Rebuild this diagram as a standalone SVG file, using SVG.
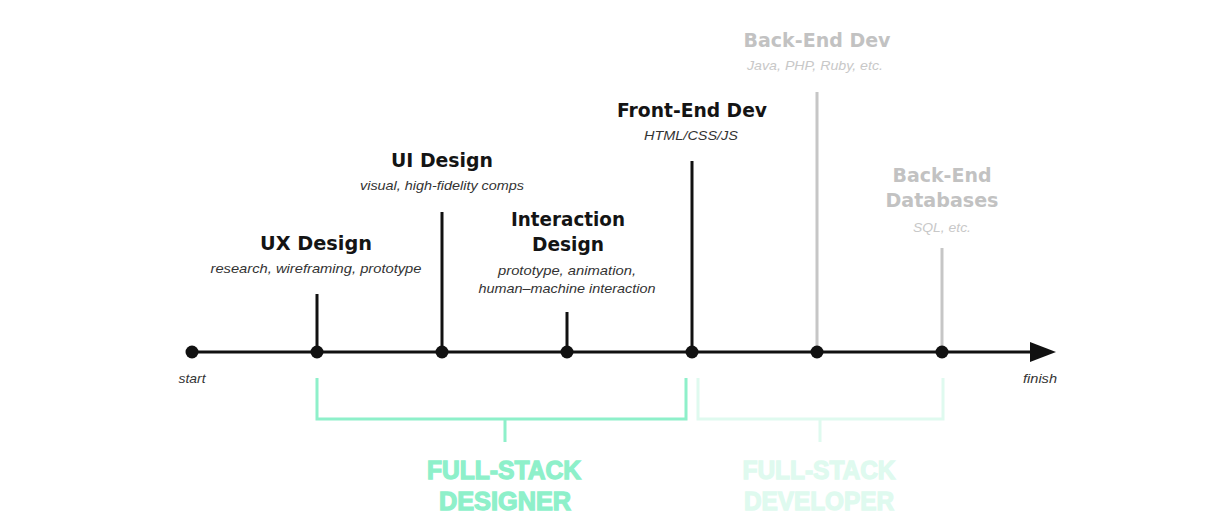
<svg xmlns="http://www.w3.org/2000/svg" width="1210" height="522" viewBox="0 0 1210 522">
<style>
.h{font-family:"DejaVu Sans","Liberation Sans",sans-serif;font-weight:bold;font-size:19px;text-anchor:middle;fill:#141414}
.s{font-family:"Liberation Sans",Arial,sans-serif;font-style:italic;font-size:13px;text-anchor:middle;fill:#333}
.g{fill:#c2c2c2}
.gs{fill:#c8c8c8}
.f{font-family:"Liberation Sans",Arial,sans-serif;font-weight:bold;font-size:25px;text-anchor:middle;stroke-width:1.3}
.blk{stroke:#111;stroke-width:3;fill:none}
.gry{stroke:#c6c6c6;stroke-width:3;fill:none}
.dot{fill:#111}
</style>
<rect width="1210" height="522" fill="#fff"/>
<g id="connectors">
<line class="blk" x1="192" y1="352" x2="1034" y2="352"/>
<polygon points="1030,342 1056,352 1030,362" fill="#111"/>
<line class="blk" x1="317" y1="294" x2="317" y2="352"/>
<line class="blk" x1="442" y1="212" x2="442" y2="352"/>
<line class="blk" x1="567" y1="312" x2="567" y2="352"/>
<line class="blk" x1="692" y1="161" x2="692" y2="352"/>
<line class="gry" x1="817" y1="92" x2="817" y2="352"/>
<line class="gry" x1="942" y1="248" x2="942" y2="352"/>
</g>
<g id="start">
<circle class="dot" cx="192" cy="352" r="6.5"/>
<text class="s" x="192" y="383" textLength="27" lengthAdjust="spacingAndGlyphs">start</text>
</g>
<g id="finish">
<text class="s" x="1040" y="383" textLength="34" lengthAdjust="spacingAndGlyphs">finish</text>
</g>
<g id="ux">
<circle class="dot" cx="317" cy="352" r="6.5"/>
<text class="h" x="316" y="250" textLength="112" lengthAdjust="spacingAndGlyphs">UX Design</text>
<text class="s" x="316" y="273" textLength="211" lengthAdjust="spacingAndGlyphs">research, wireframing, prototype</text>
</g>
<g id="ui">
<circle class="dot" cx="442" cy="352" r="6.5"/>
<text class="h" x="442" y="167" textLength="102" lengthAdjust="spacingAndGlyphs">UI Design</text>
<text class="s" x="442" y="190" textLength="164" lengthAdjust="spacingAndGlyphs">visual, high-fidelity comps</text>
</g>
<g id="interaction">
<circle class="dot" cx="567" cy="352" r="6.5"/>
<text class="h" x="568" y="226" textLength="114" lengthAdjust="spacingAndGlyphs">Interaction</text>
<text class="h" x="568" y="251" textLength="72" lengthAdjust="spacingAndGlyphs">Design</text>
<text class="s" x="567" y="275" textLength="138" lengthAdjust="spacingAndGlyphs">prototype, animation,</text>
<text class="s" x="567" y="293" textLength="177" lengthAdjust="spacingAndGlyphs">human–machine interaction</text>
</g>
<g id="frontend">
<circle class="dot" cx="692" cy="352" r="6.5"/>
<text class="h" x="692" y="117" textLength="150" lengthAdjust="spacingAndGlyphs">Front-End Dev</text>
<text class="s" x="691" y="140" textLength="94" lengthAdjust="spacingAndGlyphs">HTML/CSS/JS</text>
</g>
<g id="backend">
<circle class="dot" cx="817" cy="352" r="6.5"/>
<text class="h g" x="817" y="47" textLength="147" lengthAdjust="spacingAndGlyphs">Back-End Dev</text>
<text class="s gs" x="815" y="70" textLength="136" lengthAdjust="spacingAndGlyphs">Java, PHP, Ruby, etc.</text>
</g>
<g id="databases">
<circle class="dot" cx="942" cy="352" r="6.5"/>
<text class="h g" x="942" y="182" textLength="99" lengthAdjust="spacingAndGlyphs">Back-End</text>
<text class="h g" x="942" y="207" textLength="113" lengthAdjust="spacingAndGlyphs">Databases</text>
<text class="s gs" x="942" y="232" textLength="58" lengthAdjust="spacingAndGlyphs">SQL, etc.</text>
</g>
<g id="designer">
<path d="M317,378 V419 H686 V378 M505,419 V442" stroke="#8ef0ca" stroke-width="3" fill="none"/>
<text class="f" x="504" y="479" fill="#8ef0ca" stroke="#8ef0ca" textLength="154" lengthAdjust="spacingAndGlyphs">FULL-STACK</text>
<text class="f" x="505" y="510" fill="#8ef0ca" stroke="#8ef0ca" textLength="132" lengthAdjust="spacingAndGlyphs">DESIGNER</text>
</g>
<g id="developer">
<path d="M698,378 V419 H943 V378 M820,419 V442" stroke="#dffaef" stroke-width="3" fill="none"/>
<text class="f" x="819" y="479" fill="#dffaef" stroke="#dffaef" textLength="153" lengthAdjust="spacingAndGlyphs">FULL-STACK</text>
<text class="f" x="819" y="510" fill="#dffaef" stroke="#dffaef" textLength="150" lengthAdjust="spacingAndGlyphs">DEVELOPER</text>
</g>
</svg>
